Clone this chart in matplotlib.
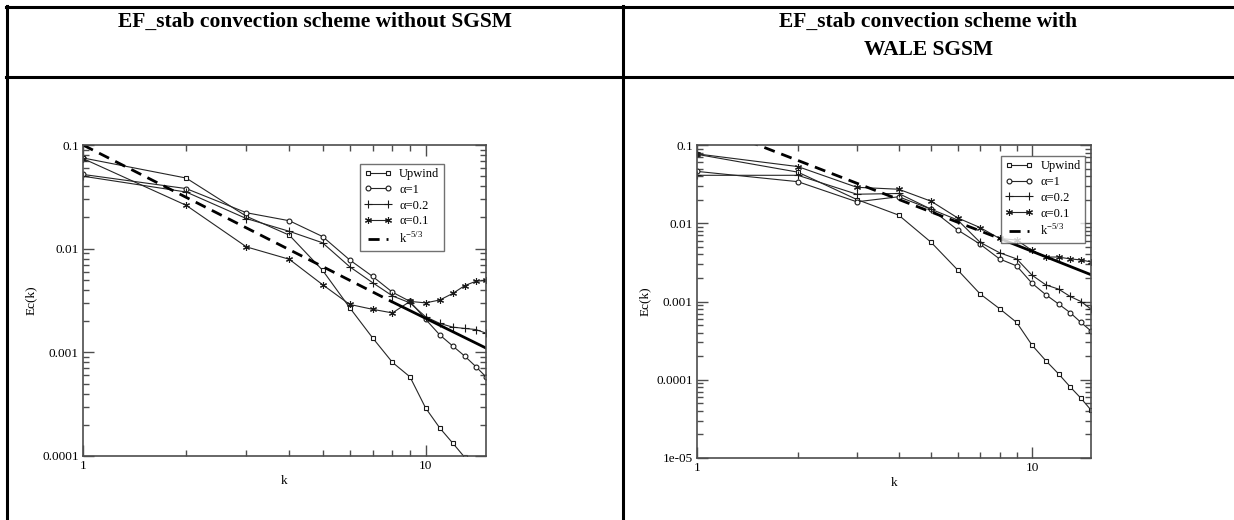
import matplotlib
matplotlib.use('Agg')
import matplotlib.pyplot as plt
from matplotlib.lines import Line2D
from matplotlib.ticker import FixedLocator, FixedFormatter, LogLocator, NullFormatter

plt.rcParams['font.family'] = ['Liberation Serif', 'DejaVu Serif']
plt.rcParams['mathtext.fontset'] = 'custom'
plt.rcParams['mathtext.rm'] = 'Liberation Serif'

W, H = 1234, 520

# wavenumbers
k = list(range(1, 16))

# EF_stab without SGSM
left_upwind = [0.075, 0.048, 0.0205, 0.0135, 0.0062, 0.0027, 0.00138, 0.0008, 0.00058,
               0.00029, 0.000186, 0.000133, 0.000097, 0.00007, 0.00005]
left_a1 = [0.052, 0.038, 0.0222, 0.0186, 0.0131, 0.0078, 0.0054, 0.0038, 0.0031,
           0.00208, 0.00147, 0.00115, 0.00092, 0.00073, 0.00058]
left_a02 = [0.050, 0.0352, 0.0195, 0.0147, 0.0114, 0.0067, 0.0047, 0.0035, 0.0030,
            0.0022, 0.0019, 0.00175, 0.0017, 0.00166, 0.00153]
left_a01 = [0.074, 0.0262, 0.0104, 0.0079, 0.0045, 0.0029, 0.0026, 0.0024, 0.0031,
            0.0030, 0.0032, 0.0037, 0.0044, 0.00484, 0.00495]
left_ref = [0.1, 0.00306, 0.0011]

# EF_stab with WALE SGSM
right_upwind = [0.076, 0.045, 0.0201, 0.0127, 0.0057, 0.00253, 0.00125, 0.00081, 0.00054,
                0.000277, 0.000175, 0.000119, 0.000081, 0.000058, 0.000041]
right_a1 = [0.046, 0.034, 0.0188, 0.0218, 0.0151, 0.0082, 0.0054, 0.0035, 0.00285,
            0.00171, 0.00122, 0.00093, 0.00072, 0.00054, 0.00042]
right_a02 = [0.041, 0.041, 0.0235, 0.024, 0.0151, 0.011, 0.0057, 0.0042, 0.0035,
             0.00217, 0.00163, 0.00144, 0.00116, 0.001, 0.0008]
right_a01 = [0.077, 0.053, 0.0288, 0.0272, 0.0191, 0.0117, 0.0088, 0.0064, 0.0061,
             0.0045, 0.0037, 0.0037, 0.0035, 0.0034, 0.0032]
right_ref = [0.2, 0.0064, 0.0022]

ref_k = [1, 8, 15]
labels = ['Upwind', 'α=1', 'α=0.2', 'α=0.1', 'k$^{\\mathregular{-5/3}}$']
xticks = [1, 10]
xtick_labels = ['1', '10']
left_yticks = [1e-4, 1e-3, 1e-2, 1e-1]
left_ytick_labels = ['0.0001', '0.001', '0.01', '0.1']
right_yticks = [1e-5, 1e-4, 1e-3, 1e-2, 1e-1]
right_ytick_labels = ['1e-05', '0.0001', '0.001', '0.01', '0.1']

left_title = 'EF_stab convection scheme without SGSM'
right_title = ['EF_stab convection scheme with', 'WALE SGSM']

fig = plt.figure(figsize=(W / 100, H / 100), dpi=100)


def px_axes(x0, y0, x1, y1):
    return fig.add_axes([x0 / W, 1 - y1 / H, (x1 - x0) / W, (y1 - y0) / H])


def hline(x0, x1, y):
    fig.add_artist(Line2D([x0 / W, x1 / W], [1 - y / H, 1 - y / H], color='black', lw=2.2))


def vline(x, y0, y1):
    fig.add_artist(Line2D([x / W, x / W], [1 - y0 / H, 1 - y1 / H], color='black', lw=2.2))


def draw_panel(ax, series, ref, ylim, yticks, yticklabels, leg_anchor):
    markers = ['s', 'o', '+', (6, 2, 0)]
    sizes = [3.5, 3.5, 6, 5]
    for vals, m, ms, lab in zip(series, markers, sizes, labels[:4]):
        ax.plot(k, vals, color='0.15', lw=0.8, marker=m, ms=ms, mfc='white',
                mec='0.1', mew=0.8, label=lab)
    ax.plot(ref_k[:2], ref[:2], color='black', lw=2, ls=(0, (4, 2.5)), label=labels[4])
    ax.plot(ref_k[1:], ref[1:], color='black', lw=2)
    ax.set_xscale('log')
    ax.set_yscale('log')
    ax.set_xlim(1, 15)
    ax.set_ylim(*ylim)
    ax.xaxis.set_major_locator(FixedLocator(xticks))
    ax.xaxis.set_major_formatter(FixedFormatter(xtick_labels))
    ax.xaxis.set_minor_locator(LogLocator(base=10, subs=range(2, 10)))
    ax.xaxis.set_minor_formatter(NullFormatter())
    ax.yaxis.set_major_locator(FixedLocator(yticks))
    ax.yaxis.set_major_formatter(FixedFormatter(yticklabels))
    ax.yaxis.set_minor_locator(LogLocator(base=10, subs=range(2, 10)))
    ax.yaxis.set_minor_formatter(NullFormatter())
    ax.tick_params(which='both', direction='in', top=True, right=True, color='0.3',
                   labelsize=9.5, pad=3)
    ax.tick_params(which='major', length=8, width=1)
    ax.tick_params(which='minor', length=4, width=1)
    for sp in ax.spines.values():
        sp.set_color('0.3')
        sp.set_linewidth(1.2)
    ax.set_xlabel('k', fontsize=9.5, labelpad=2)
    ax.set_ylabel('Ec(k)', fontsize=9.5, labelpad=4)
    leg = ax.legend(loc='upper right', bbox_to_anchor=leg_anchor, fontsize=9, numpoints=2,
                    handlelength=2.2, handletextpad=0.6, labelspacing=0.3,
                    borderpad=0.35, frameon=True, fancybox=False, borderaxespad=0)
    leg.get_frame().set_edgecolor('0.3')
    leg.get_frame().set_linewidth(1)


ax1 = px_axes(83, 145, 486, 456)
draw_panel(ax1, [left_upwind, left_a1, left_a02, left_a01], left_ref, (1e-4, 0.1),
           left_yticks, left_ytick_labels, (0.895, 0.94))

ax2 = px_axes(697, 145, 1091, 458)
draw_panel(ax2, [right_upwind, right_a1, right_a02, right_a01], right_ref, (1e-5, 0.1),
           right_yticks, right_ytick_labels, (0.985, 0.965))

# table frame
hline(6, W, 7)
hline(6, W, 77)
vline(7, 6, H)
vline(623, 6, H)

fig.text(315 / W, 1 - 22 / H, left_title, ha='center', va='center', fontsize=15.5,
         fontweight='bold')
fig.text(928 / W, 1 - 22 / H, right_title[0], ha='center', va='center', fontsize=15.5,
         fontweight='bold')
fig.text(928 / W, 1 - 50 / H, right_title[1], ha='center', va='center', fontsize=15.5,
         fontweight='bold')

fig.savefig('out.png', dpi=100)
